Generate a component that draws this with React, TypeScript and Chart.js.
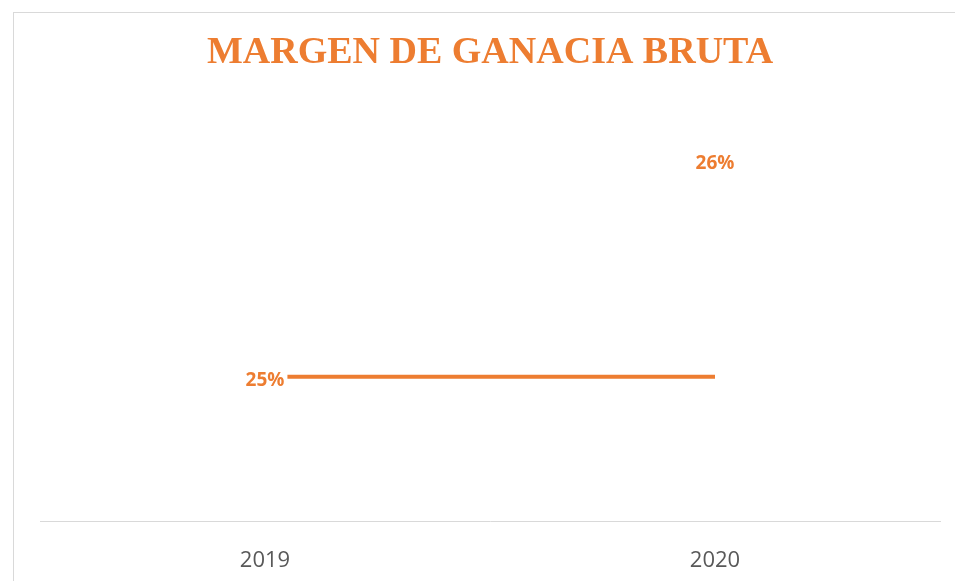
import React, { useEffect, useRef } from "react";
import { Chart, registerables } from "chart.js";

Chart.register(...registerables);

const categories = ["2019", "2020"];
const margenBruta = [0.2549, 0.2551];
const labelTexts = ["25%", "26%"];
const labelOffsetsY = [4, -213];

const ORANGE = "#ED7D31";

const labelPlugin = {
  id: "pointLabels",
  afterDatasetsDraw(chart: any) {
    const ctx = chart.ctx;
    const meta = chart.getDatasetMeta(0);
    ctx.save();
    ctx.font = "bold 19px 'Open Sans'";
    ctx.textAlign = "center";
    ctx.textBaseline = "middle";
    meta.data.forEach((pt: any, i: number) => {
      const x = pt.x;
      const y = pt.y + labelOffsetsY[i];
      const w = ctx.measureText(labelTexts[i]).width;
      ctx.fillStyle = "#ffffff";
      ctx.fillRect(x - w / 2 - 3, y - 12, w + 6, 24);
      ctx.fillStyle = ORANGE;
      ctx.fillText(labelTexts[i], x, y);
    });
    ctx.restore();
  },
};

const framePlugin = {
  id: "frame",
  beforeDraw(chart: any) {
    const ctx = chart.ctx;
    ctx.save();
    ctx.fillStyle = "#ffffff";
    ctx.fillRect(0, 0, chart.width, chart.height);
    ctx.strokeStyle = "#D9D9D9";
    ctx.lineWidth = 1;
    ctx.strokeRect(13.5, 12.5, chart.width + 20, chart.height + 20);
    ctx.restore();
  },
};

export default function App() {
  const ref = useRef<HTMLCanvasElement>(null);
  useEffect(() => {
    const chart = new Chart(ref.current!, {
      type: "line",
      data: {
        labels: categories,
        datasets: [
          {
            label: "Margen de ganancia bruta",
            data: margenBruta,
            borderColor: ORANGE,
            backgroundColor: ORANGE,
            borderWidth: 4,
            pointRadius: 0,
            tension: 0,
          },
        ],
      },
      options: {
        animation: false,
        responsive: false,
        layout: { padding: { left: 40, right: 15, top: 30, bottom: -19 } },
        plugins: {
          legend: { display: false },
          tooltip: { enabled: false },
          title: {
            display: true,
            text: "MARGEN DE GANACIA BRUTA",
            color: ORANGE,
            font: { family: "'Liberation Serif'", size: 38, weight: "bold" },
            padding: { top: 0, bottom: 20 },
          },
        },
        scales: {
          x: {
            offset: true,
            grid: { display: false, drawTicks: false },
            border: { display: true, color: "#D9D9D9", width: 1 },
            ticks: {
              color: "#595959",
              font: { family: "'Open Sans'", size: 22 },
              padding: 26,
            },
          },
          y: {
            display: false,
            min: 0,
            max: 0.75,
          },
        },
      },
      plugins: [framePlugin, labelPlugin],
    });
    return () => chart.destroy();
  }, []);
  return (
    <div style={{ position: "fixed", left: 0, top: 0, width: 955, height: 581 }}>
      <canvas ref={ref} width={955} height={581} style={{ display: "block" }} />
    </div>
  );
}
